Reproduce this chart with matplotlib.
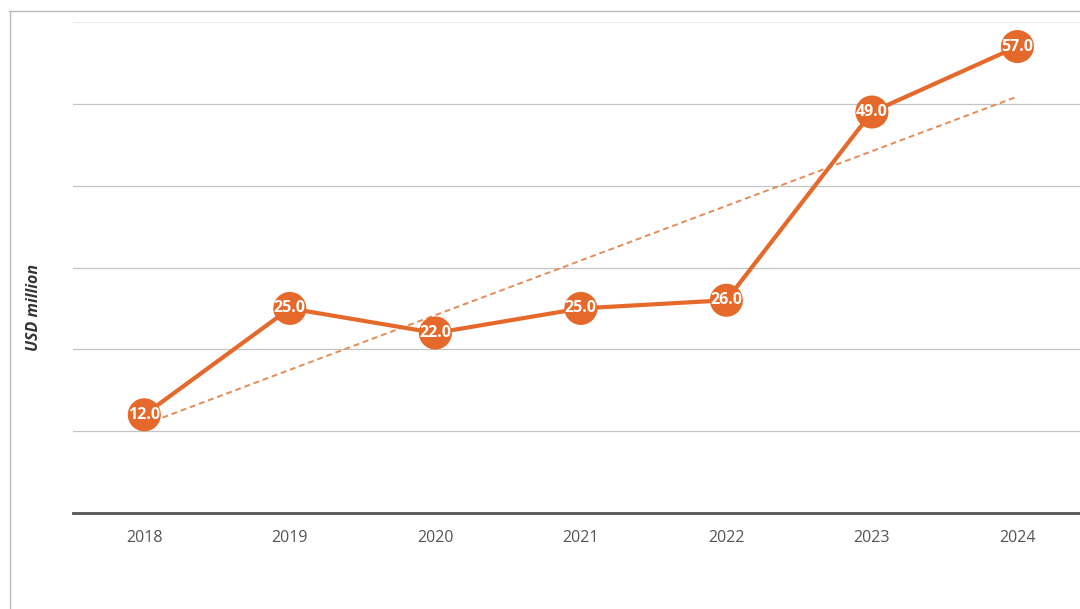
import numpy as np
import matplotlib.pyplot as plt
from matplotlib.lines import Line2D

years = ['2018', '2019', '2020', '2021', '2022', '2023', '2024']
values = [12.0, 25.0, 22.0, 25.0, 26.0, 49.0, 57.0]

orange = '#e5692a'
plt.rcParams['font.family'] = ['Open Sans', 'DejaVu Sans']

fig = plt.figure(figsize=(10.8, 6.09), dpi=100)
ax = fig.add_axes([73/1080, 96/609, 1 - 73/1080, 491/609])

x = np.arange(len(years))

# linear trend
k, b = np.polyfit(x, values, 1)
ax.plot(x, k*x + b, color='#e88a55', lw=1.4, ls=(0, (3, 2)), zorder=2)

ax.plot(x, values, color=orange, lw=3, zorder=3)
ax.scatter(x, values, s=33**2 * 0.52, color=orange, zorder=4, edgecolors='none')
for xi, v in zip(x, values):
    ax.text(xi, v, '{:.1f}'.format(v), color='white', fontsize=11.5,
            fontweight='bold', ha='center', va='center', zorder=5)

ax.set_xlim(-0.49, 6.43)
ax.set_ylim(0, 60)
ax.set_xticks(x)
ax.set_xticklabels(years, color='#555555', fontsize=11.5)
ax.set_yticks([0, 10, 20, 30, 40, 50, 60])
ax.set_yticklabels([])
ax.tick_params(axis='both', length=0)
ax.tick_params(axis='x', pad=12)
ax.grid(axis='y', color='#c4c4c4', lw=0.9)
ax.get_ygridlines()[-1].set_color('#ececec')
ax.set_axisbelow(True)
for s in ['top', 'right', 'left']:
    ax.spines[s].set_visible(False)
ax.spines['bottom'].set_color('#555555')
ax.spines['bottom'].set_linewidth(2)

fig.text(34/1080, 1 - 307/609, 'USD million', rotation=90, ha='center',
         va='center', fontsize=11.5, fontweight='bold', fontstyle='italic',
         color='#333333')

# outer frame
fig.add_artist(Line2D([9/1080, 1], [1 - 11/609, 1 - 11/609], color='#bbbbbb', lw=1))
fig.add_artist(Line2D([10/1080, 10/1080], [0, 1 - 11/609], color='#bbbbbb', lw=1))

fig.savefig('out.png', dpi=100)
